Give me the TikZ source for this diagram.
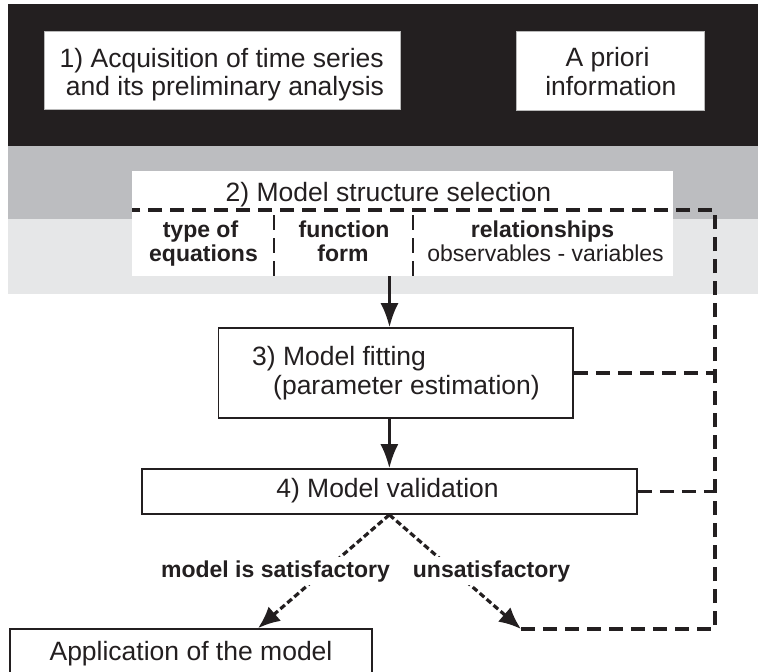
\documentclass[tikz,border=0pt]{standalone}
\usepackage{fontspec}
\setmainfont{Liberation Sans}
\usetikzlibrary{arrows.meta,calc}
\definecolor{ink}{HTML}{231F20}
\definecolor{bandgray}{HTML}{BCBDC0}
\definecolor{bandlight}{HTML}{E6E7E8}
\begin{document}
\begin{tikzpicture}[x=1pt,y=-1pt,
  reg/.style={font=\fontsize{26.5}{29}\selectfont, text=ink, inner sep=0pt},
  sml/.style={font=\fontsize{23}{24}\selectfont, text=ink, inner sep=0pt},
  bld/.style={font=\fontsize{23}{24}\selectfont\bfseries, text=ink, inner sep=0pt},
  topbox/.style={rectangle, fill=white, draw=gray!55, line width=0.8pt, inner sep=0pt},
  stepbox/.style={rectangle, fill=white, draw=ink, line width=1.6pt, inner sep=0pt},
  arr/.style={draw=ink, line width=2.6pt, -{Latex[length=24pt,width=18pt]}},
  fb/.style={draw=ink, line width=3.5pt, dash pattern=on 14pt off 8pt},
  colsep/.style={draw=ink, line width=2.6pt, dash pattern=on 15pt off 8pt},
  dotarr/.style={draw=ink, line width=3.2pt, dash pattern=on 6pt off 3.2pt, -{Latex[length=22pt,width=19pt]}},
  lab/.style={font=\fontsize{23}{24}\selectfont\bfseries, text=ink, fill=white, inner sep=3pt, anchor=base}
]
\useasboundingbox (0,0) rectangle (758,672);
% background bands
\fill[ink] (8.3,4) rectangle (758,145.7);
\fill[bandgray] (8.3,145.7) rectangle (758,219);
\fill[bandlight] (8.3,219) rectangle (758,294);

% step 1 and a priori
\node[topbox, minimum width=356pt, minimum height=78pt] (acq) at (222,70) {};
\node[reg, anchor=base] (acqa) at (221.7,67) {1) Acquisition of time series};
\node[reg, anchor=base] (acqb) at (225,95) {and its preliminary analysis};
\node[topbox, minimum width=188pt, minimum height=79pt] (apr) at (610,70.5) {};
\node[reg, anchor=base] (apra) at (607.5,66.7) {A priori};
\node[reg, anchor=base] (aprb) at (610.8,95) {information};

% step 2
\node[rectangle, fill=white, inner sep=0pt, minimum width=541.3pt, minimum height=105pt] (mss) at (402.35,223.5) {};
\node[reg, anchor=base] (msst) at (388.5,201.7) {2) Model structure selection};
\node[bld, anchor=base] (c1a) at (200.5,237) {type of};
\node[bld, anchor=base] (c1b) at (203.5,261) {equations};
\node[bld, anchor=base] (c2a) at (344,237) {function};
\node[bld, anchor=base] (c2b) at (343,261) {form};
\node[bld, anchor=base] (c3a) at (542.5,237) {relationships};
\node[sml, anchor=base] (c3b) at (545.5,261.5) {observables - variables};
\draw[colsep] (274,215) -- (274,278);
\draw[colsep] (413,215) -- (413,278);

% step 3
\node[stepbox, minimum width=354.5pt, minimum height=90pt] (fit) at (395.75,373) {};
\node[reg, anchor=base west] (fita) at (252,365) {3) Model fitting};
\node[reg, anchor=base west] (fitb) at (273,394) {(parameter estimation)};

% step 4
\node[stepbox, minimum width=495.3pt, minimum height=45pt] (val) at (389.35,491.5) {};
\node[reg, anchor=base] (valt) at (387.5,497) {4) Model validation};

% application
\node[stepbox, minimum width=362pt, minimum height=60pt] (app) at (191,659) {};
\node[reg, anchor=base] (appt) at (191,660) {Application of the model};

% coordinates
\coordinate (ax) at (389.5,0);
\coordinate (dtr) at (715,210);
\coordinate (dbr) at (715,629);
\coordinate (dbl) at (521,629);
\coordinate (tipl) at (258,629);

% solid arrows
\draw[arr] (mss.south -| ax) -- (fit.north -| ax);
\draw[arr] (fit.south -| val.north) -- (val.north);

% feedback dashed lines
\draw[fb] (dbl) -- (dbr) -- (dtr) -- (mss.west |- dtr);
\draw[fb] (fit.east) -- (fit.east -| dtr);
\draw[fb] (val.east) -- (val.east -| dtr);

% decision arrows
\draw[dotarr] (val.south) -- (app.north -| tipl);
\draw[dotarr] (val.south) -- (dbl);
\node[lab] (lsat) at (275.5,577) {model is satisfactory};
\node[lab] (luns) at (491.5,577) {unsatisfactory};
\end{tikzpicture}
\end{document}
